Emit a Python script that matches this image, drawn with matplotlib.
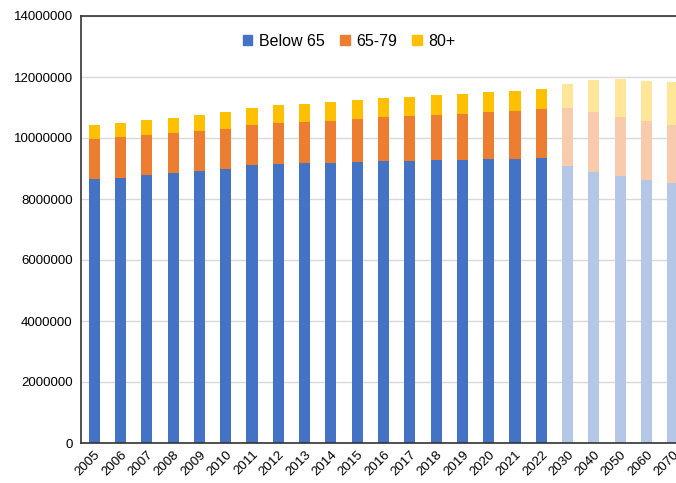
import matplotlib.pyplot as plt
from matplotlib.patches import Patch
import numpy as np

plt.rcParams['font.family'] = ['Liberation Sans', 'DejaVu Sans']

years = ['2005', '2006', '2007', '2008', '2009', '2010', '2011', '2012', '2013',
         '2014', '2015', '2016', '2017', '2018', '2019', '2020', '2021', '2022',
         '2030', '2040', '2050', '2060', '2070']
below65 = [8650000, 8700000, 8780000, 8840000, 8910000, 8970000, 9100000, 9150000, 9180000,
           9170000, 9200000, 9240000, 9260000, 9270000, 9280000, 9300000, 9310000, 9330000,
           9080000, 8900000, 8760000, 8630000, 8530000]
age65_79 = [1330000, 1340000, 1310000, 1310000, 1330000, 1330000, 1340000, 1350000, 1350000,
            1400000, 1410000, 1440000, 1450000, 1490000, 1520000, 1550000, 1590000, 1630000,
            1900000, 1950000, 1930000, 1930000, 1900000]
age80 = [450000, 460000, 490000, 520000, 510000, 540000, 550000, 570000, 590000,
         600000, 630000, 620000, 630000, 640000, 640000, 660000, 640000, 650000,
         790000, 1050000, 1240000, 1310000, 1410000]
n_hist = 18  # 2005-2022 are recorded, the rest projected

blue, orange, yellow = '#4472C4', '#ED7D31', '#FFC000'
blue_l, orange_l, yellow_l = '#B4C7E7', '#F8CBAD', '#FFE699'

x = np.arange(len(years))
c1 = [blue] * n_hist + [blue_l] * (len(years) - n_hist)
c2 = [orange] * n_hist + [orange_l] * (len(years) - n_hist)
c3 = [yellow] * n_hist + [yellow_l] * (len(years) - n_hist)

fig = plt.figure(figsize=(6.76, 4.83), dpi=100)
ax = fig.add_axes([81 / 676, 1 - 443 / 483, 605 / 676, 427 / 483])

w = 0.42
b = np.array(below65)
m = np.array(age65_79)
ax.bar(x, b, w, color=c1, zorder=2)
ax.bar(x, m, w, bottom=b, color=c2, zorder=2)
ax.bar(x, age80, w, bottom=b + m, color=c3, zorder=2)

ax.set_xlim(-0.5, len(years) - 0.5)
ax.set_ylim(0, 14000000)
ax.set_yticks(np.arange(0, 14000001, 2000000))
ax.set_yticklabels([str(v) for v in range(0, 14000001, 2000000)], fontsize=9.5)
ax.set_xticks(x)
ax.set_xticklabels(years, rotation=45, ha='right', rotation_mode='anchor', fontsize=9.5)
ax.tick_params(length=0, pad=6)
ax.tick_params(axis='x', pad=4)
ax.grid(axis='y', color='#D9D9D9', linewidth=1, zorder=0)
for s in ['left', 'bottom', 'top']:
    ax.spines[s].set_color('#333333')
    ax.spines[s].set_linewidth(1.2)
ax.spines['right'].set_visible(False)

handles = [Patch(color=blue), Patch(color=orange), Patch(color=yellow)]
fig.legend(handles, ['Below 65', '65-79', '80+'], loc='center', bbox_to_anchor=(349 / 676, 1 - 41 / 483),
           ncol=3, frameon=False, fontsize=11.5, handlelength=0.62, handleheight=0.62,
           handletextpad=0.4, columnspacing=0.95)

fig.savefig('out.png', dpi=100)
